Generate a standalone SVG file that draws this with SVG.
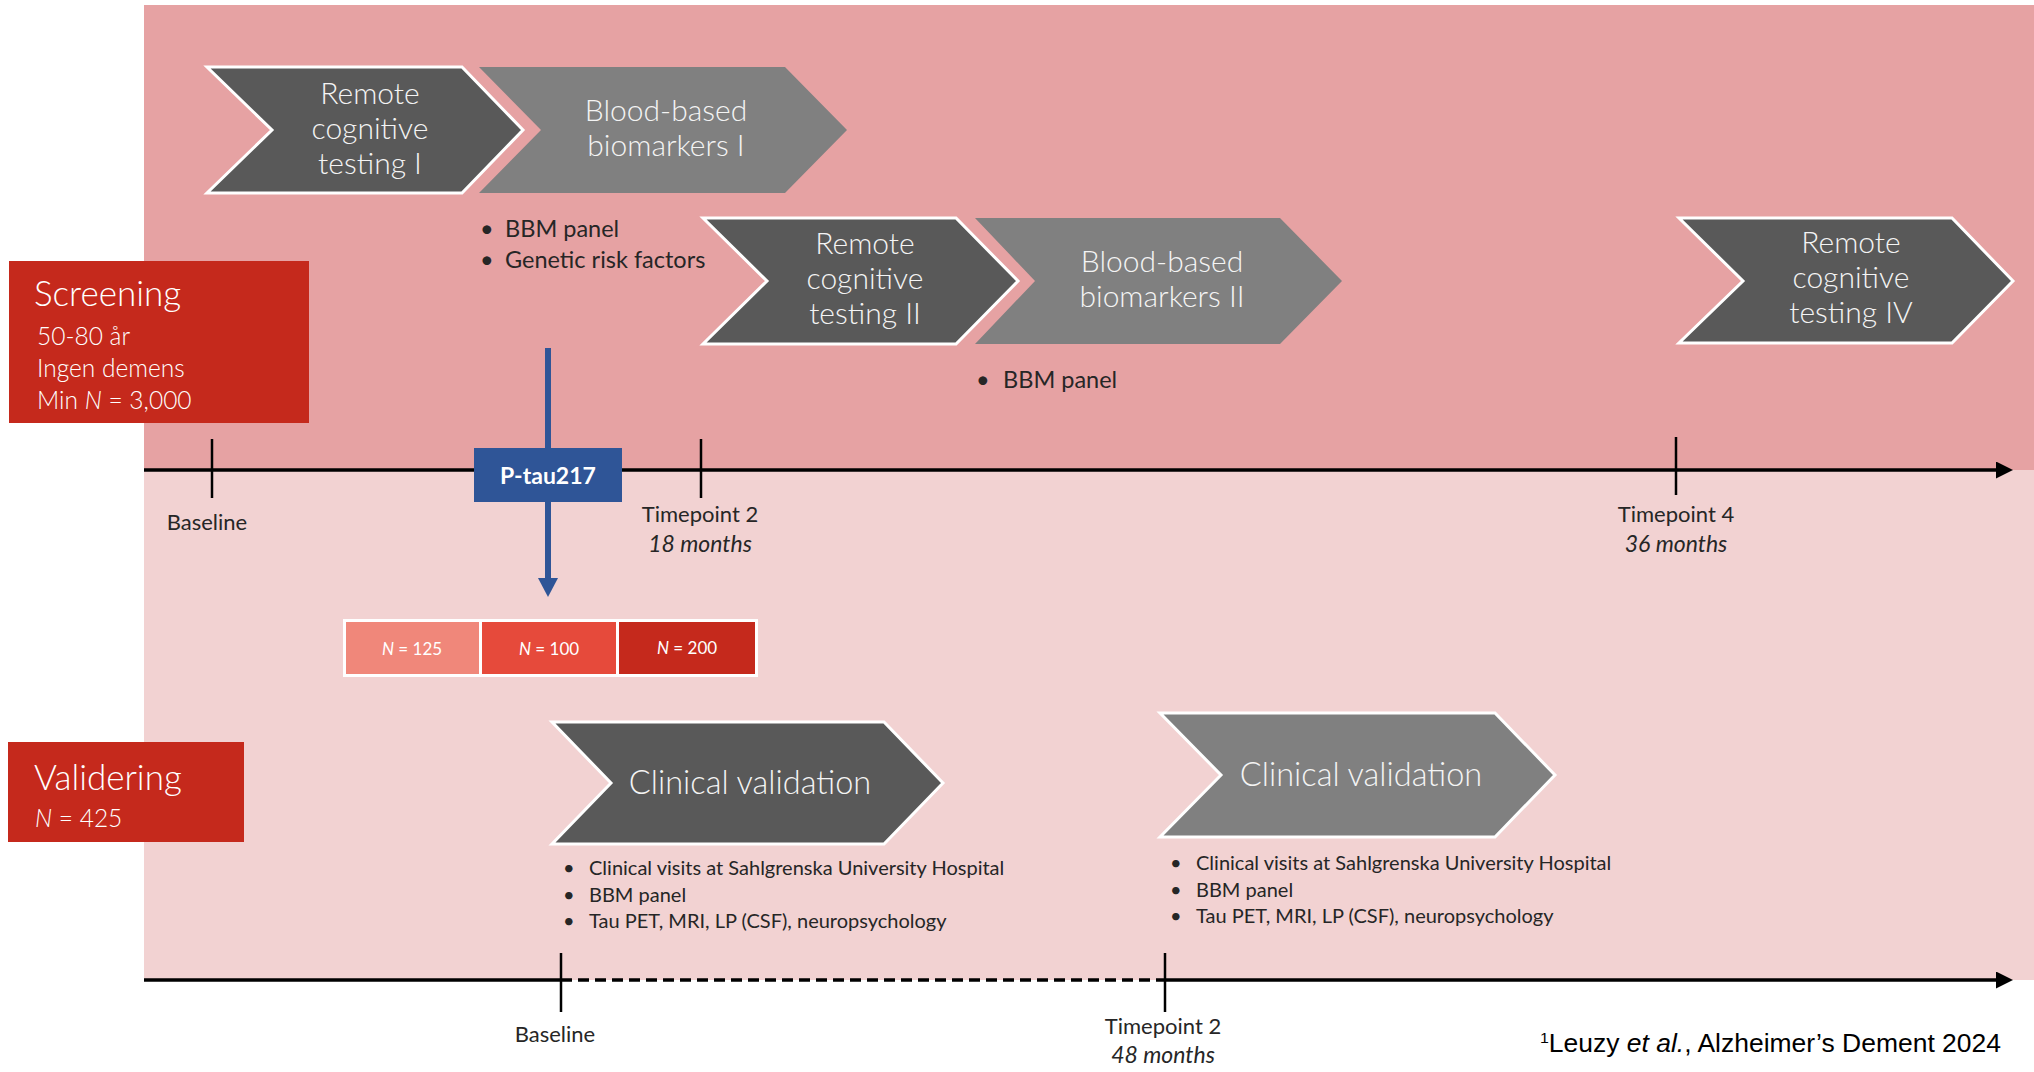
<svg xmlns="http://www.w3.org/2000/svg" width="2034" height="1072" viewBox="0 0 2034 1072">
  <style>
    .chev-dark { fill: #595959; stroke: #ffffff; stroke-width: 3; }
    .chev-grey { fill: #808080; }
    .chev-grey-out { fill: #808080; stroke: #ffffff; stroke-width: 3; }
    .chev-txt { font-family: Lato, "Open Sans", sans-serif; font-weight: 300; font-size: 30px; fill: #f4f4f4; text-anchor: middle; }
    .clin-txt { font-family: Lato, "Open Sans", sans-serif; font-weight: 300; font-size: 32.5px; fill: #f4f4f4; text-anchor: middle; }
    .bul { font-family: Lato, "Open Sans", sans-serif; font-size: 23.5px; fill: #262626; }
    .bul-s { font-family: Lato, "Open Sans", sans-serif; font-size: 20px; fill: #262626; }
    .tl { font-family: Lato, "Open Sans", sans-serif; font-size: 22px; fill: #262626; text-anchor: middle; }
    .tl-i { font-family: Lato, "Open Sans", sans-serif; font-size: 23px; font-style: italic; fill: #262626; text-anchor: middle; }
    .box-title { font-family: Lato, "Open Sans", sans-serif; font-weight: 300; font-size: 35px; fill: #ffffff; }
    .box-sub { font-family: Lato, "Open Sans", sans-serif; font-weight: 300; font-size: 24.5px; fill: #ffffff; }
    .n-txt { font-family: Lato, "Open Sans", sans-serif; font-size: 17px; fill: #ffffff; text-anchor: middle; }
    .axis { stroke: #000000; stroke-width: 3.5; fill: none; }
    .tick { stroke: #000000; stroke-width: 2.5; }
  </style>
  <defs>
    <marker id="axis-head" markerUnits="userSpaceOnUse" markerWidth="18" markerHeight="18" refX="4" refY="8.5" orient="auto">
      <path d="M0,0 L17,8.5 L0,17 Z" fill="#000000"/>
    </marker>
    <marker id="blue-head" markerUnits="userSpaceOnUse" markerWidth="22" markerHeight="22" refX="2" refY="10" orient="auto">
      <path d="M0,0 L19,10 L0,20 Z" fill="#2f5597"/>
    </marker>
  </defs>

  <!-- background bands -->
  <rect x="144" y="5" width="1890" height="465" fill="#e6a2a3"/>
  <rect x="144" y="470" width="1890" height="510" fill="#f2d2d2"/>

  <!-- time axes -->
  <g id="axes">
    <line class="axis" x1="144" y1="470" x2="2000" y2="470" marker-end="url(#axis-head)"/>
    <line class="tick" x1="212" y1="439" x2="212" y2="498"/>
    <line class="tick" x1="701" y1="439" x2="701" y2="498"/>
    <line class="tick" x1="1676" y1="437" x2="1676" y2="495"/>
    <text class="tl" x="207" y="530">Baseline</text>
    <text class="tl" x="700" y="522">Timepoint 2</text>
    <text class="tl-i" x="700" y="552">18 months</text>
    <text class="tl" x="1676" y="522">Timepoint 4</text>
    <text class="tl-i" x="1676" y="552">36 months</text>

    <line class="axis" x1="144" y1="980" x2="561" y2="980"/>
    <line class="axis" x1="561" y1="980" x2="1165" y2="980" stroke-dasharray="11 6"/>
    <line class="axis" x1="1165" y1="980" x2="2000" y2="980" marker-end="url(#axis-head)"/>
    <line class="tick" x1="561" y1="953" x2="561" y2="1012"/>
    <line class="tick" x1="1165" y1="953" x2="1165" y2="1012"/>
    <text class="tl" x="555" y="1042">Baseline</text>
    <text class="tl" x="1163" y="1034">Timepoint 2</text>
    <text class="tl-i" x="1163" y="1063">48 months</text>
  </g>

  <!-- connectors -->
  <g id="connectors">
    <line x1="548" y1="348" x2="548" y2="580" stroke="#2f5597" stroke-width="6" marker-end="url(#blue-head)"/>
  </g>

  <!-- screening arm -->
  <g id="screening">
    <rect x="9" y="261" width="300" height="162" fill="#c5291c"/>
    <text class="box-title" x="34" y="306">Screening</text>
    <text class="box-sub" x="37" y="345">50-80 år</text>
    <text class="box-sub" x="37" y="377">Ingen demens</text>
    <text class="box-sub" x="37" y="409">Min <tspan font-style="italic">N</tspan> = 3,000</text>
  </g>

  <g id="remote-1">
    <polygon class="chev-dark" points="207,67 462,67 523,130 462,193 207,193 272,130"/>
    <text class="chev-txt" x="370" y="104">Remote</text>
    <text class="chev-txt" x="370" y="139">cognitive</text>
    <text class="chev-txt" x="370" y="174">testing I</text>
  </g>

  <g id="blood-1">
    <polygon class="chev-grey" points="479,67 785,67 847,130 785,193 479,193 541,130"/>
    <text class="chev-txt" x="666" y="121">Blood-based</text>
    <text class="chev-txt" x="666" y="156">biomarkers I</text>
    <text class="bul" x="480" y="237">•</text>
    <text class="bul" x="505" y="237">BBM panel</text>
    <text class="bul" x="480" y="268">•</text>
    <text class="bul" x="505" y="268">Genetic risk factors</text>
  </g>

  <g id="remote-2">
    <polygon class="chev-dark" points="703,218 956,218 1018,281 956,344 703,344 767,281"/>
    <text class="chev-txt" x="865" y="254">Remote</text>
    <text class="chev-txt" x="865" y="289">cognitive</text>
    <text class="chev-txt" x="865" y="324">testing II</text>
  </g>

  <g id="blood-2">
    <polygon class="chev-grey" points="975,218 1280,218 1342,281 1280,344 975,344 1035,281"/>
    <text class="chev-txt" x="1162" y="272">Blood-based</text>
    <text class="chev-txt" x="1162" y="307">biomarkers II</text>
    <text class="bul" x="976" y="388">•</text>
    <text class="bul" x="1003" y="388">BBM panel</text>
  </g>

  <g id="remote-4">
    <polygon class="chev-dark" points="1679,218 1952,218 2013,281 1952,343 1679,343 1743,281"/>
    <text class="chev-txt" x="1851" y="253">Remote</text>
    <text class="chev-txt" x="1851" y="288">cognitive</text>
    <text class="chev-txt" x="1851" y="323">testing IV</text>
  </g>

  <g id="ptau217">
    <rect x="474" y="448" width="148" height="54" fill="#2f5597"/>
    <text x="548" y="484" text-anchor="middle" font-family="Lato, 'Open Sans', sans-serif" font-weight="bold" font-size="23" fill="#ffffff">P-tau217</text>
  </g>

  <g id="groups">
    <rect x="343" y="619" width="415" height="58" fill="#ffffff"/>
    <rect x="346" y="622" width="133" height="52" fill="#f0877a"/>
    <rect x="482" y="622" width="134" height="52" fill="#e64a3b"/>
    <rect x="619" y="622" width="136" height="52" fill="#c5291c"/>
    <text class="n-txt" x="412" y="655"><tspan font-style="italic">N</tspan> = 125</text>
    <text class="n-txt" x="549" y="655"><tspan font-style="italic">N</tspan> = 100</text>
    <text class="n-txt" x="687" y="654"><tspan font-style="italic">N</tspan> = 200</text>
  </g>

  <!-- validation arm -->
  <g id="validering">
    <rect x="8" y="742" width="236" height="100" fill="#c5291c"/>
    <text class="box-title" x="34" y="790">Validering</text>
    <text class="box-sub" x="35" y="827"><tspan font-style="italic">N</tspan> = 425</text>
  </g>

  <g id="clinical-1">
    <polygon class="chev-dark" points="552,722 884,722 943,783 884,844 552,844 611,783"/>
    <text class="clin-txt" x="750" y="794">Clinical validation</text>
    <text class="bul-s" x="563" y="875">•</text>
    <text class="bul-s" x="589" y="875">Clinical visits at Sahlgrenska University Hospital</text>
    <text class="bul-s" x="563" y="902">•</text>
    <text class="bul-s" x="589" y="902">BBM panel</text>
    <text class="bul-s" x="563" y="928">•</text>
    <text class="bul-s" x="589" y="928">Tau PET, MRI, LP (CSF), neuropsychology</text>
  </g>

  <g id="clinical-2">
    <polygon class="chev-grey-out" points="1160,713 1495,713 1555,775 1495,837 1160,837 1221,775"/>
    <text class="clin-txt" x="1361" y="786">Clinical validation</text>
    <text class="bul-s" x="1170" y="870">•</text>
    <text class="bul-s" x="1196" y="870">Clinical visits at Sahlgrenska University Hospital</text>
    <text class="bul-s" x="1170" y="897">•</text>
    <text class="bul-s" x="1196" y="897">BBM panel</text>
    <text class="bul-s" x="1170" y="923">•</text>
    <text class="bul-s" x="1196" y="923">Tau PET, MRI, LP (CSF), neuropsychology</text>
  </g>

  <!-- reference note -->
  <text x="1540" y="1052" font-family="'Liberation Sans', Arial, sans-serif" font-size="25" fill="#000000" textLength="461" lengthAdjust="spacingAndGlyphs"><tspan font-size="15" dy="-9">1</tspan><tspan dy="9">Leuzy </tspan><tspan font-style="italic">et al.</tspan>, Alzheimer’s Dement 2024</text>
</svg>
